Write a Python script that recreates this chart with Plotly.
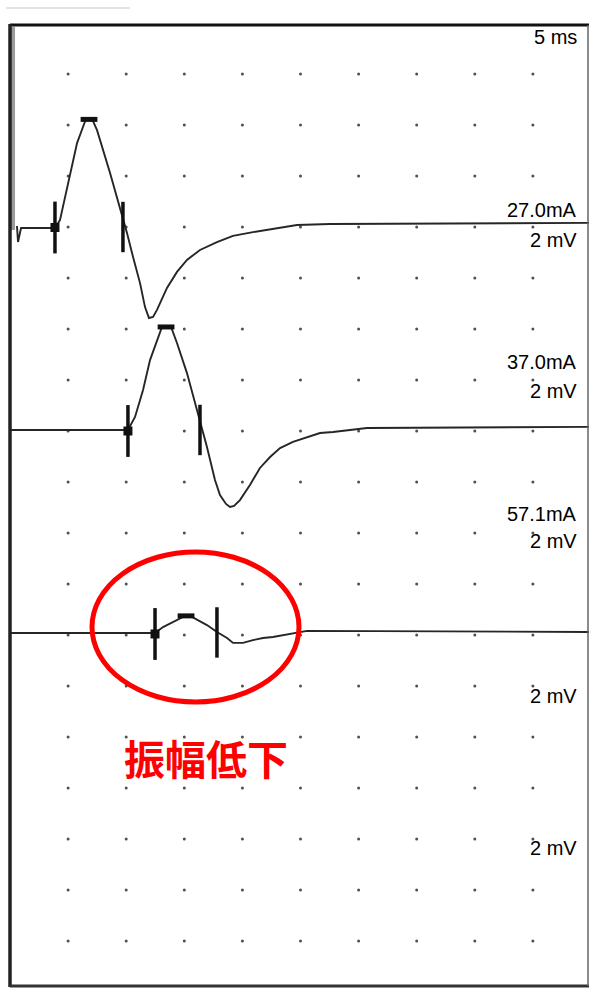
import plotly.graph_objects as go

# ---------------- data (ms, mV relative to each trace's baseline) ----------------
sweep_label = "5 ms"
stim_labels = ["27.0mA", "37.0mA", "57.1mA"]
gain_labels = ["2 mV", "2 mV", "2 mV", "2 mV", "2 mV"]
annotation_text = "振幅低下"

ms_per_div = 5
mv_per_div = 2
baselines_mv = [-6, -14, -22]          # trace baselines on the screen

artifact_ms = [0.26, 0.26]
artifact_mv = [7.84, -0.12]

t1_ms = [0.60, 0.69, 0.95, 3.87, 4.30, 4.91, 5.77, 6.28, 6.54, 7.06, 7.49, 8.61, 9.72,
         10.07, 10.59, 11.19, 11.62, 11.96, 12.31, 12.65, 13.51, 14.37, 15.23, 16.35,
         17.81, 19.19, 20.91, 22.63, 24.70, 27.54, 49.83]
t1_mv = [0.04, -0.59, -0.04, -0.04, 0.27, 1.57, 3.29, 3.92, 4.24, 4.24, 3.80, 2.12, 0.39,
         -0.24, -1.18, -2.20, -3.14, -3.57, -3.53, -3.25, -2.39, -1.76, -1.29, -0.90,
         -0.59, -0.35, -0.20, -0.08, 0.08, 0.12, 0.16]

t2_ms = [0, 10.15, 10.76, 11.45, 12.05, 12.74, 13.08, 13.86, 14.37, 15.23, 16.09, 16.35,
         16.95, 17.64, 18.07, 18.59, 18.93, 19.28, 19.79, 20.65, 21.51, 22.38, 23.24,
         24.35, 25.56, 26.68, 27.80, 29.26, 30.72, 49.83]
t2_mv = [0.04, 0.04, 0.55, 1.61, 2.78, 3.69, 4.08, 4.08, 3.45, 2.27, 0.82, 0.43,
         -0.63, -1.92, -2.51, -2.86, -2.98, -2.94, -2.71, -2.12, -1.45, -1.02, -0.67,
         -0.43, -0.24, -0.08, -0.04, 0.04, 0.12, 0.16]

t3_ms = [0, 12.48, 13.17, 14.03, 14.63, 15.06, 15.66, 16.95, 17.81, 18.68, 19.19, 20.05,
         20.91, 21.77, 22.63, 24.10, 25.56, 49.83]
t3_mv = [0.08, 0.08, 0.31, 0.51, 0.67, 0.75, 0.71, 0.39, 0.12, -0.12, -0.31, -0.31,
         -0.20, -0.12, -0.08, 0.04, 0.16, 0.12]

onset_ms = [3.87, 10.15, 12.48]
onset_mv = [-0.02, 0.0, 0.04]
peak_ms = [6.80, 13.43, 15.15]
peak_mv = [4.22, 4.08, 0.75]
end_ms = [9.72, 16.35, 17.81]
end_mv = [0.0, 0.04, 0.10]

grid_cols = list(range(1, 10))   # divisions
grid_rows = list(range(0, 18))

# ---------------- layout geometry (pixels) ----------------
W, H = 589, 989
X0_PX, DIVX_PX = 10, 58.1        # 0 ms at x=10px
Y0_PX, DIVY_PX = 74, 51.0        # 0 mV at y=74px

x_range = [(0 - X0_PX) / DIVX_PX * ms_per_div, (W - X0_PX) / DIVX_PX * ms_per_div]
y_range = [-(H - Y0_PX) / DIVY_PX * mv_per_div, Y0_PX / DIVY_PX * mv_per_div]

def px(x):
    return x / W

def py(y):
    return 1 - y / H

fig = go.Figure()

# dot grid
gx, gy = [], []
for r in grid_rows:
    for c in grid_cols:
        gx.append(c * ms_per_div)
        gy.append(-r * mv_per_div)
fig.add_trace(go.Scatter(x=gx, y=gy, mode="markers",
                         marker=dict(size=3, color="#505050"), hoverinfo="skip"))

# stimulus artifact
fig.add_trace(go.Scatter(x=artifact_ms, y=[v + baselines_mv[0] for v in artifact_mv],
                         mode="lines", line=dict(color="#9a9a9a", width=4), hoverinfo="skip"))

traces = [(t1_ms, t1_mv), (t2_ms, t2_mv), (t3_ms, t3_mv)]
for (tx, tv), b in zip(traces, baselines_mv):
    fig.add_trace(go.Scatter(x=tx, y=[v + b for v in tv], mode="lines",
                             line=dict(color="#262626", width=1.9),
                             hoverinfo="skip"))

ob = [v + b for v, b in zip(onset_mv, baselines_mv)]
pb = [v + b for v, b in zip(peak_mv, baselines_mv)]
eb = [v + b for v, b in zip(end_mv, baselines_mv)]

# onset markers: vertical tick + filled square
fig.add_trace(go.Scatter(x=onset_ms, y=ob, mode="markers",
                         marker=dict(symbol="line-ns", size=37, line=dict(color="#111", width=3.5)),
                         hoverinfo="skip"))
fig.add_trace(go.Scatter(x=onset_ms, y=ob, mode="markers",
                         marker=dict(symbol="square", size=9, color="#111"), hoverinfo="skip"))
# peak markers: horizontal bar
fig.add_trace(go.Scatter(x=peak_ms, y=pb, mode="markers",
                         marker=dict(symbol="line-ew", size=12, line=dict(color="#111", width=5)),
                         hoverinfo="skip"))
# end markers: vertical tick
fig.add_trace(go.Scatter(x=end_ms, y=eb, mode="markers",
                         marker=dict(symbol="line-ns", size=36, line=dict(color="#111", width=3.5)),
                         hoverinfo="skip"))

shapes = [
    # faint scan line above frame
    dict(type="line", xref="paper", yref="paper", x0=px(6), x1=px(130), y0=py(8), y1=py(8),
         line=dict(color="#e2e2e2", width=2)),
    # frame
    dict(type="line", xref="paper", yref="paper", x0=px(10), x1=px(589), y0=py(25), y1=py(25),
         line=dict(color="#111", width=3)),
    dict(type="line", xref="paper", yref="paper", x0=px(10), x1=px(10), y0=py(24), y1=py(987),
         line=dict(color="#222", width=3.5)),
    dict(type="line", xref="paper", yref="paper", x0=px(10), x1=px(589), y0=py(986), y1=py(986),
         line=dict(color="#333", width=3)),
    dict(type="line", xref="paper", yref="paper", x0=px(588), x1=px(588), y0=py(25), y1=py(986),
         line=dict(color="#666", width=1.5)),
    # red ellipse
    dict(type="circle", xref="paper", yref="paper", x0=px(92), x1=px(299), y0=py(552), y1=py(702),
         line=dict(color="#ff0000", width=5)),
]

font_lbl = dict(family="Liberation Sans, Arial, sans-serif", size=20, color="#000")
ann = []
def label(text, ypx):
    ann.append(dict(text=text, xref="paper", yref="paper", x=px(579), y=py(ypx),
                    xanchor="right", yanchor="middle", showarrow=False, font=font_lbl))

label(sweep_label, 37)
stim_y = [210, 362, 514]
for t, yv in zip(stim_labels, stim_y):
    label(t, yv)
gain_y = [240, 391, 541, 696, 848]
for t, yv in zip(gain_labels, gain_y):
    label(t, yv)

ann.append(dict(text="<b>" + annotation_text + "</b>", xref="paper", yref="paper",
                x=px(206), y=py(757), xanchor="center", yanchor="middle", showarrow=False,
                font=dict(family="Noto Sans CJK JP, sans-serif", size=41, color="#ff0000")))

fig.update_layout(
    width=W, height=H, autosize=False,
    margin=dict(l=0, r=0, t=0, b=0, pad=0),
    paper_bgcolor="white", plot_bgcolor="white",
    showlegend=False,
    xaxis=dict(range=x_range, visible=False, fixedrange=True),
    yaxis=dict(range=y_range, visible=False, fixedrange=True),
    shapes=shapes, annotations=ann,
)

fig.write_html("out.html", config={"displayModeBar": False},
               post_script="document.body.style.margin='0';document.body.style.overflow='hidden';")
